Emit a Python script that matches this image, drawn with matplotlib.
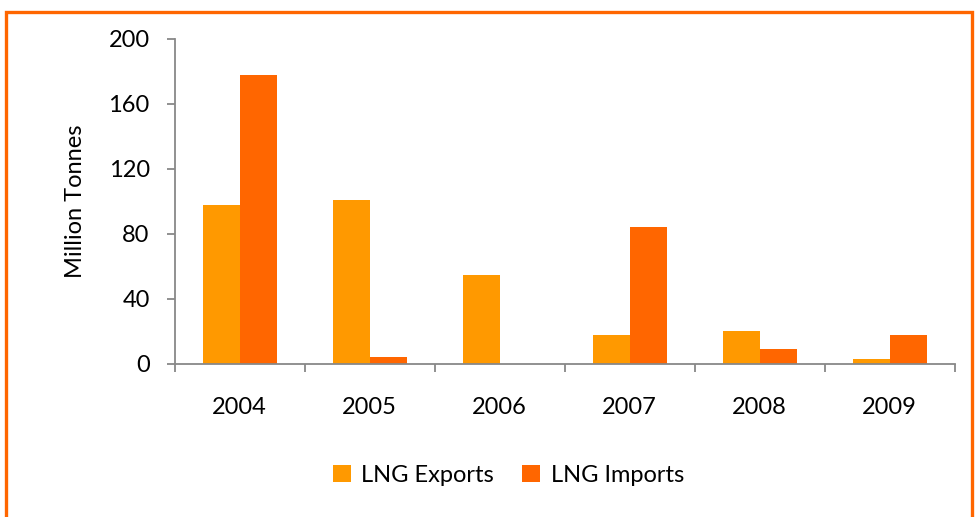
import matplotlib.pyplot as plt
from matplotlib.patches import Rectangle
import numpy as np

plt.rcParams['font.family'] = ['Lato', 'DejaVu Sans']

# Data
years = ['2004', '2005', '2006', '2007', '2008', '2009']
lng_exports = [98, 101, 55, 18, 20, 3]
lng_imports = [178, 4, 0, 84, 9, 18]

fig = plt.figure(figsize=(9.76, 5.17), dpi=100)
ax = fig.add_axes([0.179, 0.296, 0.799, 0.629])

x = np.arange(len(years))
w = 0.285
ax.bar(x - w / 2, lng_exports, w, color='#FF9900', label='LNG Exports')
ax.bar(x + w / 2, lng_imports, w, color='#FF6600', label='LNG Imports')

ax.set_xlim(-0.5, len(years) - 0.5)
ax.set_ylim(0, 200)
ax.set_yticks(range(0, 201, 40))
ax.set_xticks(np.arange(-0.5, len(years), 1.0), minor=False)
ax.set_xticklabels([])
ax.set_xticks(x, minor=True)
ax.set_xticklabels(years, minor=True)
ax.tick_params(axis='x', which='minor', length=0, labelsize=17, pad=24)
ax.tick_params(axis='x', which='major', length=6, color='#888888', width=1.3)
ax.tick_params(axis='y', length=6, color='#888888', width=1.3, labelsize=17, pad=12)
ax.set_ylabel('Million Tonnes', fontsize=17, labelpad=16)

for s in ['top', 'right']:
    ax.spines[s].set_visible(False)
for s in ['left', 'bottom']:
    ax.spines[s].set_color('#888888')
    ax.spines[s].set_linewidth(1.3)

fig.legend(loc='center', bbox_to_anchor=(0.521, 0.081), ncol=2, frameon=False,
           fontsize=17, handlelength=0.75, handleheight=0.75, columnspacing=1.2,
           handletextpad=0.45)

# orange frame round the chart
fig.patches.append(Rectangle((6 / 976, -0.05), 966 / 976, 1.05 - 12 / 517,
                             transform=fig.transFigure, fill=False,
                             edgecolor='#FF6600', linewidth=2.4))

plt.savefig('out.png', dpi=100)
